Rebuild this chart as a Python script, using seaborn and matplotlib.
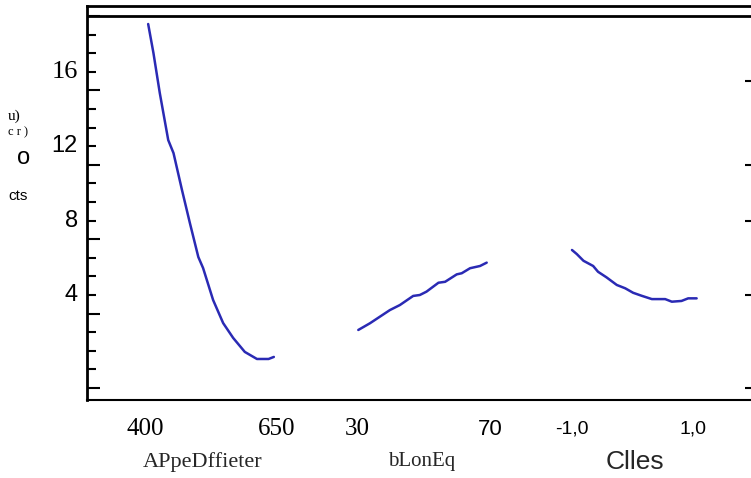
import seaborn as sns
import matplotlib.pyplot as plt
import pandas as pd

# values, one curve per factor
ape_x = [406, 416, 428, 444, 454, 470, 485, 501, 510, 529, 548, 567, 589, 612, 634, 644]
ape_y = [18.57, 17.01, 14.86, 12.33, 11.63, 9.65, 7.87, 6.04, 5.45, 3.73, 2.49, 1.69, 0.94, 0.56, 0.56, 0.67]

lon_x = [30.4, 33.9, 39.9, 42.9, 46.9, 48.9, 50.9, 54.5, 56.5, 60.0, 61.5, 64.0, 67.0, 69.0]
lon_y = [2.12, 2.48, 3.19, 3.46, 3.95, 4.00, 4.18, 4.66, 4.71, 5.11, 5.17, 5.44, 5.56, 5.74]

cl_x = [-1.00, -0.92, -0.81, -0.65, -0.57, -0.43, -0.26, -0.12, 0.01, 0.15, 0.32, 0.54, 0.65, 0.81, 0.92, 1.06]
cl_y = [6.42, 6.20, 5.84, 5.56, 5.25, 4.95, 4.54, 4.36, 4.12, 3.96, 3.78, 3.78, 3.64, 3.68, 3.82, 3.82]

panel_names = ["APpeDffieter", "bLonEq", "Clles"]
panel_ticks = [[400, 650], [30, 70], [-1.0, 1.0]]
panel_ticklabels = [["400", "650"], ["30", "70"], ["-1,0", "1,0"]]
y_labels = [4, 8, 12, 16]
right_ticks = [-1, 4, 8, 11, 15.5]

sns.set_style("white")
plt.rcParams["text.color"] = "black"
plt.rcParams["xtick.color"] = "black"
plt.rcParams["ytick.color"] = "black"
line_color = "#2a2ab4"

fig = plt.figure(figsize=(7.51, 4.78), dpi=100)
ylim = (-1.645, 19.54)

# frame axes with the y scale
ax = fig.add_axes([0.1158, 0.1632, 0.8842, 0.8243])
ax.set_ylim(*ylim)
ax.set_xlim(0, 1)
ax.set_xticks([])
for s in ["top", "left", "bottom"]:
    ax.spines[s].set_color("black")
ax.spines["top"].set_linewidth(2)
ax.spines["left"].set_linewidth(2)
ax.spines["bottom"].set_linewidth(1.5)
ax.spines["right"].set_visible(False)
ax.axhline(19, color="black", lw=2)

ax.set_yticks([-1, 3, 7, 11, 15, 19])
ax.set_yticks(range(-1, 20), minor=True)
ax.tick_params(axis="y", which="major", direction="in", length=9.5, width=1.5,
               left=True, labelleft=False)
ax.tick_params(axis="y", which="minor", direction="in", length=6.5, width=1.5, left=True)

sec = ax.secondary_yaxis("right")
sec.set_yticks(right_ticks)
sec.tick_params(direction="in", length=4.5, width=1.5, labelright=False)
sec.spines["right"].set_visible(False)

# y labels, mixed fonts as in the reference
ytrans = ax.get_yaxis_transform()
label_fonts = ["Liberation Sans", "Liberation Sans", "Liberation Sans", "Liberation Serif"]
for v, f in zip(y_labels, label_fonts):
    ax.text(-0.014, v, str(v), transform=ytrans, ha="right", va="center",
            fontsize=19 if f == "Liberation Serif" else 17, family=f)

# garbled y-axis title
fig.text(0.011, 1 - 116 / 478, "u)", fontsize=11, family="Liberation Serif", va="center")
fig.text(0.011, 1 - 132 / 478, "c r )", fontsize=9, family="Liberation Serif", va="center")
fig.text(0.022, 1 - 158 / 478, "o", fontsize=17, family="Liberation Sans", va="center")
fig.text(0.011, 1 - 196 / 478, "cts", fontsize=11, family="Liberation Sans", va="center")

# three factor panels on top of the frame
panels = [
    (ape_x, ape_y, 130, (371.6, 674.6)),
    (lon_x, lon_y, 340, (24.9, 73.0)),
    (cl_x, cl_y, 560, (-1.198, 1.446)),
]
tick_fonts = [["Liberation Serif", "Liberation Serif"], ["Liberation Serif", "Liberation Sans"],
              ["Liberation Sans", "Liberation Sans"]]
tick_sizes = [[18, 18], [18, 16], [14, 14]]
name_fonts = [("Liberation Serif", 16), ("Liberation Serif", 15), ("Liberation Sans", 19)]
name_pos = [0.456, 0.51, 0.47]

for i, (xs, ys, px0, xl) in enumerate(panels):
    pax = fig.add_axes([px0 / 751, 0.1632, 160 / 751, 0.8243])
    pax.patch.set_alpha(0)
    df = pd.DataFrame({"x": xs, "y": ys})
    sns.lineplot(data=df, x="x", y="y", ax=pax, color=line_color, lw=1.8, sort=False)
    pax.set_xlim(*xl)
    pax.set_ylim(*ylim)
    pax.set_yticks([])
    pax.set_ylabel("")
    for s in pax.spines.values():
        s.set_visible(False)
    pax.set_xticks(panel_ticks[i])
    pax.set_xticklabels(panel_ticklabels[i])
    pax.tick_params(axis="x", length=0, pad=21)
    for lab, f, sz in zip(pax.get_xticklabels(), tick_fonts[i], tick_sizes[i]):
        lab.set_family(f)
        lab.set_fontsize(sz)
        lab.set_va("center")
    pax.set_xlabel(panel_names[i], family=name_fonts[i][0], fontsize=name_fonts[i][1],
                   va="center")
    pax.xaxis.set_label_coords(name_pos[i], -0.157)

fig.savefig("out.png", dpi=100)
